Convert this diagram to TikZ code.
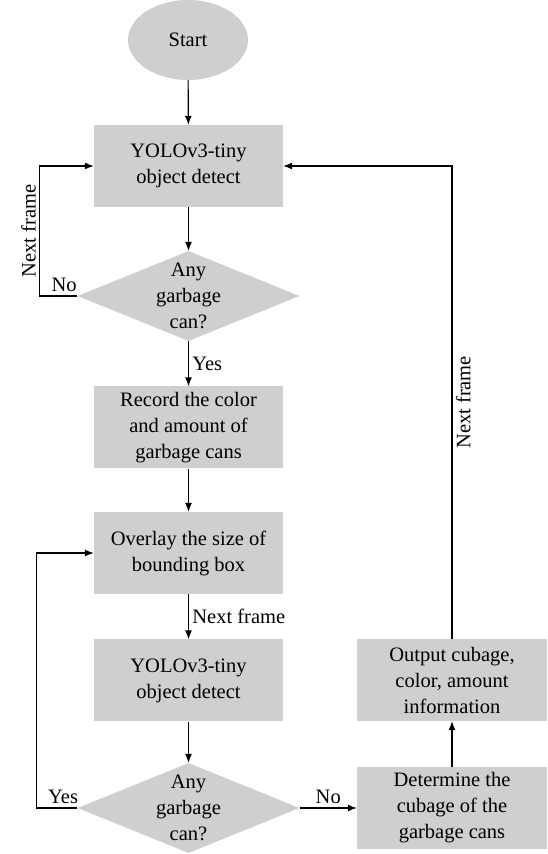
\documentclass[tikz,border=0pt]{standalone}
\usepackage{fontspec}
\setmainfont{Liberation Serif}
\usetikzlibrary{shapes,arrows,arrows.meta}
\definecolor{boxgray}{RGB}{208,206,207}

\begin{document}
\begin{tikzpicture}[%
  x=1pt,y=1pt,
  every node/.style={font=\fontsize{20.5}{26}\selectfont},
  start/.style={ellipse,fill=boxgray,minimum width=120pt,minimum height=80pt},
  proc/.style={rectangle,fill=boxgray,minimum width=189pt,minimum height=82pt,align=center,inner sep=0pt},
  decide/.style={diamond,fill=boxgray,minimum width=222pt,minimum height=90pt,inner sep=0pt,aspect=2.47},
  decidetext/.style={align=center,inner sep=0pt},
  flow/.style={-{Latex[length=9pt,width=7pt]},line width=1.1pt}]
    \useasboundingbox (0,0) rectangle (547,854);
    % Main column
    \node[start] (start) at (188,814) {Start};
    \node[proc] (det1) at (188.5,688) {YOLOv3-tiny\\object detect};
    \node[decide] (any1) at (188.5,558) {};
    \node[decidetext] (any1t) at (any1) {Any\\garbage\\can?};
    \node[proc] (rec) at (188.5,426.5) {Record the color\\and amount of\\garbage cans};
    \node[proc] (ovl) at (188.5,301) {Overlay the size of\\bounding box};
    \node[proc] (det2) at (188.5,173.5) {YOLOv3-tiny\\object detect};
    \node[decide] (any2) at (188.5,46) {};
    \node[decidetext] (any2t) at (any2) {Any\\garbage\\can?};
    % Right column
    \node[proc,minimum width=190pt] (cube) at (452,46) {Determine the\\cubage of the\\garbage cans};
    \node[proc,minimum width=190pt] (out) at (452,174) {Output cubage,\\color, amount\\information};
    % Connectors
    \draw[flow] (start) -- (det1);
    \draw[flow] (det1) -- (any1);
    \draw[flow] (any1.west) -- node[above,pos=0.35]{No} ++(-37.5,0)
      -- node[midway,sloped,above]{Next frame} ++(0,130) -- (det1.west);
    \draw[flow] (any1.south) -- node[right]{Yes} (rec.north);
    \draw[flow] (rec) -- (ovl);
    \draw[flow] (ovl) -- node[right]{Next frame} (det2);
    \draw[flow] (det2) -- (any2);
    \draw[flow] (any2.west) -- node[above,pos=0.35]{Yes} ++(-40.5,0) |- (ovl.west);
    \draw[flow] (any2.east) -- node[above]{No} (cube.west);
    \draw[flow] (cube) -- (out);
    \draw[flow] (out.north) -- node[midway,sloped,below]{Next frame} (out.north |- det1.east) -- (det1.east);
\end{tikzpicture}
\end{document}
